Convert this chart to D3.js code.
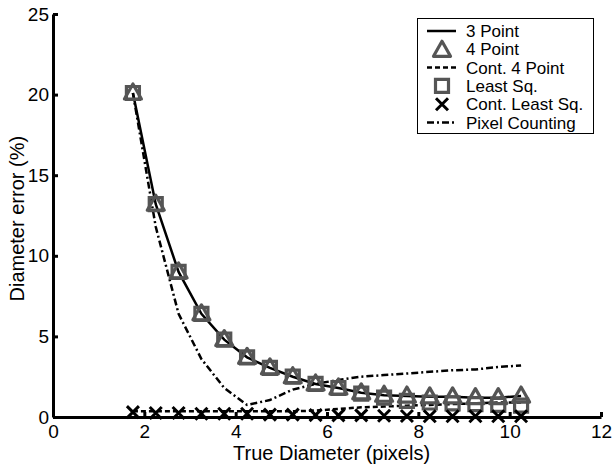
<!DOCTYPE html>
<html>
<head>
<meta charset="utf-8">
<script src="https://cdn.jsdelivr.net/npm/d3@7/dist/d3.min.js"></script>
<style>
  html, body { margin: 0; padding: 0; background: #fff; }
  svg { display: block; font-family: Arial, "Liberation Sans", Helvetica, sans-serif; }
</style>
</head>
<body>
<svg id="chart" width="612" height="465"></svg>
<script>
// True diameter sample positions (pixels)
const diameters = [1.75, 2.25, 2.75, 3.25, 3.75, 4.25, 4.75, 5.25, 5.75, 6.25, 6.75, 7.25, 7.75, 8.25, 8.75, 9.25, 9.75, 10.25];

// Diameter error (%) for each method
const threePoint = [20.1, 13.2, 9.0, 6.4, 4.8, 3.7, 3.05, 2.5, 2.05, 1.8, 1.5, 1.35, 1.3, 1.25, 1.25, 1.2, 1.2, 1.3];
const fourPoint = [20.1, 13.2, 9.0, 6.4, 4.8, 3.7, 3.05, 2.5, 2.05, 1.8, 1.5, 1.35, 1.3, 1.25, 1.25, 1.2, 1.2, 1.3];
const cont4Point = [0.35, 0.35, 0.35, 0.35, 0.35, 0.35, 0.35, 0.35, 0.4, 0.5, 0.6, 0.65, 0.7, 0.75, 0.8, 0.85, 0.9, 0.9];
const leastSq = [20.1, 13.2, 9.0, 6.4, 4.8, 3.7, 3.05, 2.5, 2.05, 1.8, 1.45, 1.2, 1.0, 0.9, 0.85, 0.8, 0.75, 0.7];
const contLeastSq = [0.3, 0.25, 0.25, 0.2, 0.2, 0.2, 0.15, 0.15, 0.12, 0.1, 0.1, 0.08, 0.06, 0.05, 0.05, 0.05, 0.05, 0.05];
const pixelCounting = [20.1, 11.8, 6.4, 3.6, 1.8, 0.75, 1.05, 1.7, 2.05, 2.3, 2.5, 2.6, 2.7, 2.8, 2.9, 2.95, 3.1, 3.2];

const xTicks = [0, 2, 4, 6, 8, 10, 12];
const yTicks = [0, 5, 10, 15, 20, 25];

const legendLabels = ["3 Point", "4 Point", "Cont. 4 Point", "Least Sq.", "Cont. Least Sq.", "Pixel Counting"];

const svg = d3.select("#chart");
const x = d3.scaleLinear().domain([0, 12]).range([53, 601]);
const y = d3.scaleLinear().domain([0, 25]).range([417, 14]);

const markerGray = "#555";

// Axes (left and bottom only, ticks pointing inward)
const xAxis = svg.append("g").attr("transform", `translate(0,${y(0)})`)
  .call(d3.axisBottom(x).tickValues(xTicks).tickFormat(d3.format("d")).tickSizeInner(-5).tickSizeOuter(0).tickPadding(8));
const yAxis = svg.append("g").attr("transform", `translate(${x(0)},0)`)
  .call(d3.axisLeft(y).tickValues(yTicks).tickFormat(d3.format("d")).tickSizeInner(-5).tickSizeOuter(0).tickPadding(4));
[xAxis, yAxis].forEach(g => {
  g.select(".domain").attr("stroke", "#000").attr("stroke-width", 3);
  g.selectAll(".tick line").attr("stroke", "#000").attr("stroke-width", 3);
  g.selectAll(".tick text").attr("fill", "#000").style("font-size", "19px");
});

// Axis titles
svg.append("text").attr("x", x(6.1)).attr("y", 460).attr("text-anchor", "middle")
  .style("font-size", "20px").text("True Diameter (pixels)");
svg.append("text").attr("transform", `translate(24,${y(12.3)}) rotate(-90)`).attr("text-anchor", "middle")
  .style("font-size", "20px").text("Diameter error (%)");

const line = vals => d3.line().x((d, i) => x(diameters[i])).y(d => y(d))(vals);

// Marker shapes
const triPath = (cx, cy) => `M${cx},${cy - 9}L${cx + 8.5},${cy + 6}L${cx - 8.5},${cy + 6}Z`;
const sqPath = (cx, cy) => `M${cx - 6.5},${cy - 6.5}H${cx + 6.5}V${cy + 6.5}H${cx - 6.5}Z`;
const crossPath = (cx, cy) => `M${cx - 6},${cy - 6}L${cx + 6},${cy + 6}M${cx - 6},${cy + 6}L${cx + 6},${cy - 6}`;

const plot = svg.append("g");

// Series lines
plot.append("path").attr("d", line(cont4Point)).attr("fill", "none").attr("stroke", "#000")
  .attr("stroke-width", 2.5).attr("stroke-dasharray", "5,3");
plot.append("path").attr("d", line(pixelCounting)).attr("fill", "none").attr("stroke", "#000")
  .attr("stroke-width", 2.5).attr("stroke-dasharray", "7,3,2,3");
plot.append("path").attr("d", line(threePoint)).attr("fill", "none").attr("stroke", "#000")
  .attr("stroke-width", 2.5);

// Series markers
plot.selectAll(".sq").data(leastSq).join("path").attr("class", "sq")
  .attr("d", (d, i) => sqPath(x(diameters[i]), y(d)))
  .attr("fill", "none").attr("stroke", markerGray).attr("stroke-width", 3.2);
plot.selectAll(".tri").data(fourPoint).join("path").attr("class", "tri")
  .attr("d", (d, i) => triPath(x(diameters[i]), y(d)))
  .attr("fill", "none").attr("stroke", markerGray).attr("stroke-width", 3.2).attr("stroke-linejoin", "round");
plot.selectAll(".xm").data(contLeastSq).join("path").attr("class", "xm")
  .attr("d", (d, i) => crossPath(x(diameters[i]), y(d)))
  .attr("fill", "none").attr("stroke", "#000").attr("stroke-width", 3);

// Legend
const lg = svg.append("g");
lg.append("rect").attr("x", 417.5).attr("y", 18.5).attr("width", 176).attr("height", 115)
  .attr("fill", "#fff").attr("stroke", "#000").attr("stroke-width", 1);
const rowY = i => 31 + i * 18.3;
const sx0 = 427, sx1 = 456, scx = 442;
lg.selectAll("text").data(legendLabels).join("text")
  .attr("x", 466).attr("y", (d, i) => rowY(i) + 6).style("font-size", "17px").text(d => d);
lg.append("line").attr("x1", sx0).attr("x2", sx1).attr("y1", rowY(0)).attr("y2", rowY(0))
  .attr("stroke", "#000").attr("stroke-width", 2.5);
lg.append("path").attr("d", triPath(scx, rowY(1) + 1)).attr("fill", "none").attr("stroke", markerGray)
  .attr("stroke-width", 3.2).attr("stroke-linejoin", "round");
lg.append("line").attr("x1", sx0).attr("x2", sx1).attr("y1", rowY(2)).attr("y2", rowY(2))
  .attr("stroke", "#000").attr("stroke-width", 2.5).attr("stroke-dasharray", "5,3");
lg.append("path").attr("d", sqPath(scx, rowY(3))).attr("fill", "none").attr("stroke", markerGray).attr("stroke-width", 3.2);
lg.append("path").attr("d", crossPath(scx, rowY(4))).attr("fill", "none").attr("stroke", "#000").attr("stroke-width", 3);
lg.append("line").attr("x1", sx0).attr("x2", sx1).attr("y1", rowY(5)).attr("y2", rowY(5))
  .attr("stroke", "#000").attr("stroke-width", 2.5).attr("stroke-dasharray", "7,3,2,3");
</script>
</body>
</html>
